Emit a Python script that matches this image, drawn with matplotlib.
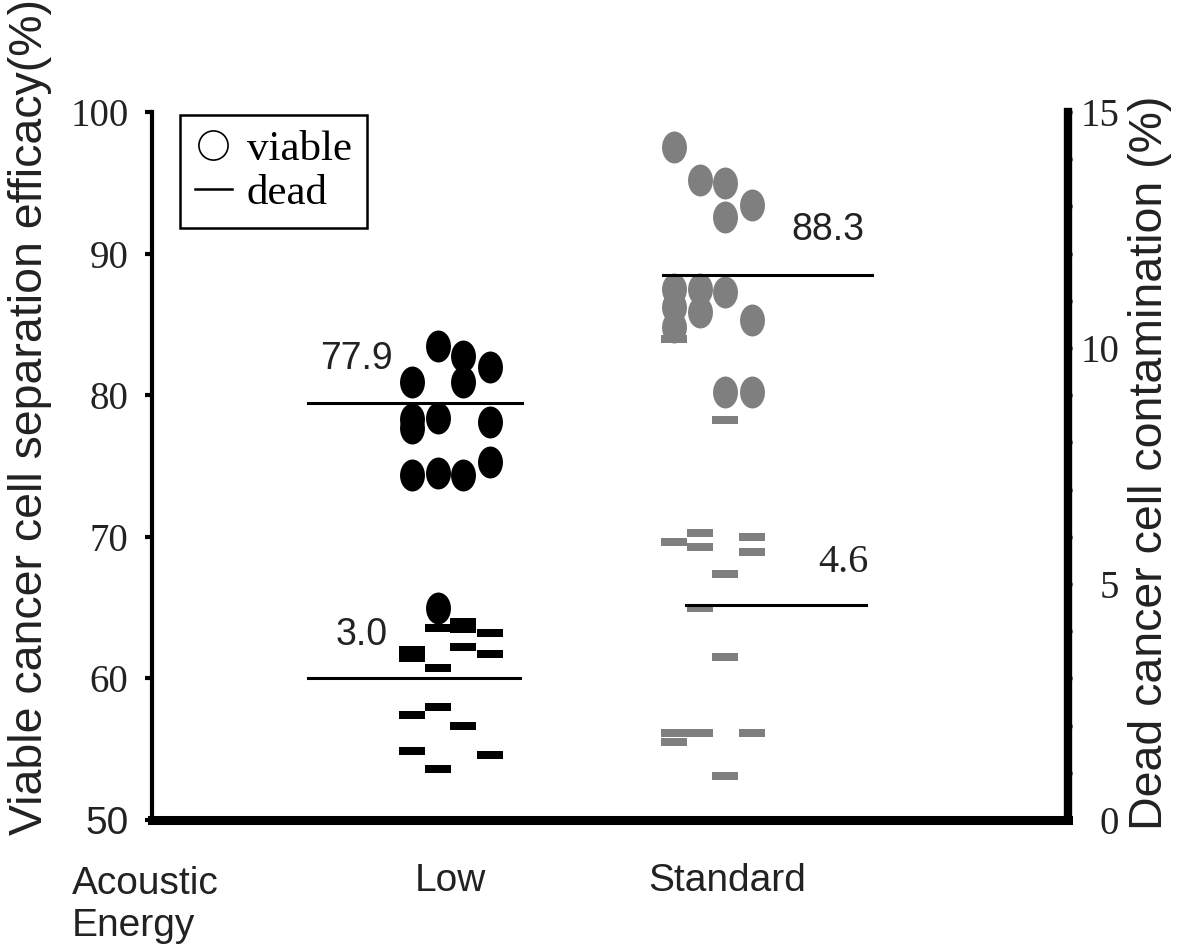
import numpy as np
import matplotlib
matplotlib.use('Agg')
import matplotlib.pyplot as plt
from matplotlib.path import Path
from matplotlib.transforms import Affine2D
from matplotlib.lines import Line2D
from matplotlib.ticker import MultipleLocator

SANS = 'Liberation Sans'
SERIF = 'Liberation Serif'

# --- data (one inner list per jitter column) ---
categories = ['Low', 'Standard']
low_viable = [[80.9, 78.3, 77.7, 74.4], [83.5, 78.4, 74.5, 65.0],
              [82.8, 80.9, 74.4], [82.0, 78.1, 75.3]]
std_viable = [[97.5, 87.5, 86.2, 84.8], [95.2, 87.5, 85.9],
              [95.0, 92.6, 87.3, 80.2], [93.4, 85.3, 80.2]]
low_dead = [[3.60, 3.43, 2.22, 1.46], [4.07, 3.22, 2.39, 1.08],
            [4.19, 4.05, 3.67, 1.99], [3.96, 3.52, 1.38]]
std_dead = [[10.2, 5.89, 1.84, 1.65], [6.08, 5.78, 4.49, 1.84],
            [8.47, 5.21, 3.45, 0.93], [6.00, 5.68, 1.84]]
viable_line = [79.45, 88.5]
dead_line = [3.0, 4.55]
viable_labels = ['77.9', '88.3']
dead_labels = ['3.0', '4.6']
left_ticks = [50, 60, 70, 80, 90, 100]
right_ticks = [0, 5, 10, 15]

# --- layout ---
cat_x = [1, 2]
cluster_shift = [0.0, -0.055]
col_offsets = [-0.137, -0.043, 0.047, 0.144]
viable_span = [(-0.513, 0.260), (-0.231, 0.523)]
dead_span = [(-0.513, 0.253), (-0.148, 0.502)]
viable_text_dx = [-0.336, 0.365]
dead_text_dx = [-0.318, 0.419]
text_fonts_viable = [SANS, SANS]
text_fonts_dead = [SANS, SERIF]
colors = ['black', '#7f7f7f']

ellipse = Path.unit_circle().transformed(Affine2D().scale(0.78, 1.0))
dash = Path([(-1, -0.3), (1, -0.3), (1, 0.3), (-1, 0.3), (-1, -0.3)], closed=True)

fig = plt.figure(figsize=(11.81, 9.47), dpi=100)
ax = fig.add_axes([0.1287, 0.1341, 0.7756, 0.7476])
ax2 = ax.twinx()

viable_groups = [low_viable, std_viable]
dead_groups = [low_dead, std_dead]

for i in range(2):
    for c, vals in enumerate(viable_groups[i]):
        xs = np.full(len(vals), cat_x[i] + cluster_shift[i] + col_offsets[c])
        ax.plot(xs, vals, ls='none', marker=ellipse, ms=23, mew=0,
                color=colors[i], zorder=3)
    for c, vals in enumerate(dead_groups[i]):
        xs = np.full(len(vals), cat_x[i] + cluster_shift[i] + col_offsets[c])
        ax2.plot(xs, vals, ls='none', marker=dash, ms=18.7, mew=0,
                 color=colors[i], zorder=3)

    x0, x1 = viable_span[i]
    ax.plot([cat_x[i] + x0, cat_x[i] + x1], [viable_line[i]] * 2,
            color='black', lw=2.2, zorder=5)
    ax.annotate(viable_labels[i], xy=(cat_x[i] + viable_text_dx[i], viable_line[i]),
                xytext=(0, 32), textcoords='offset points', ha='center', va='center',
                fontsize=27, family=text_fonts_viable[i], color='#222222')

    x0, x1 = dead_span[i]
    ax2.plot([cat_x[i] + x0, cat_x[i] + x1], [dead_line[i]] * 2,
             color='black', lw=2.2, zorder=5)
    ax2.annotate(dead_labels[i], xy=(cat_x[i] + dead_text_dx[i], dead_line[i]),
                 xytext=(0, 31), textcoords='offset points', ha='center', va='center',
                 fontsize=29 if text_fonts_dead[i] == SERIF else 27,
                 family=text_fonts_dead[i], color='#222222')

# axes limits and ticks
ax.set_xlim(-0.0758, 3.231)
ax.set_ylim(50, 100)
ax.set_yticks(left_ticks)
ax.set_yticklabels([str(t) for t in left_ticks])
for lab in ax.get_yticklabels():
    lab.set_fontfamily(SANS if lab.get_text() == '50' else SERIF)
    lab.set_fontsize(28)
ax.tick_params(axis='y', length=5, width=3, pad=12, labelcolor='#222222')

ax.set_xticks(cat_x)
ax.set_xticklabels(categories, fontsize=28, family=SANS, color='#222222')
ax.tick_params(axis='x', length=0, pad=31)

ax2.set_ylim(0, 15)
ax2.set_yticks(right_ticks)
ax2.yaxis.set_minor_locator(MultipleLocator(1))
for lab in ax2.get_yticklabels():
    lab.set_fontfamily(SERIF)
    lab.set_fontsize(28)
    lab.set_horizontalalignment('right')
ax2.tick_params(axis='y', which='major', length=3, width=2.5, pad=34, labelcolor='#222222')
ax2.tick_params(axis='y', which='minor', length=3, width=2.5)

# spines
ax.spines['top'].set_visible(False)
ax.spines['right'].set_visible(False)
ax.spines['left'].set_linewidth(3)
ax.spines['bottom'].set_linewidth(6.5)
for s in ['top', 'left', 'bottom']:
    ax2.spines[s].set_visible(False)
ax2.spines['right'].set_linewidth(6)

# axis labels
fig.text(30 / 1181, (947 - 835) / 947, 'Viable cancer cell separation efficacy(%)',
         rotation=90, ha='center', va='bottom', fontsize=33.5, family=SANS, color='#222222')
fig.text(1150 / 1181, (947 - 830) / 947, 'Dead cancer cell contamination (%)',
         rotation=90, ha='center', va='bottom', fontsize=33.5, family=SANS, color='#222222')
fig.text(72 / 1181, (947 - 866) / 947, 'Acoustic\nEnergy', ha='left', va='top',
         fontsize=28, family=SANS, color='#222222')

# legend
handles = [Line2D([], [], ls='none', marker='o', ms=21, mfc='none', mec='black', mew=1.2),
           Line2D([], [], color='black', lw=1.8)]
leg = ax.legend(handles, ['viable', 'dead'], loc='upper left',
                bbox_to_anchor=(0.0306, 0.9958), borderaxespad=0,
                prop={'family': SERIF, 'size': 31}, fancybox=False,
                handlelength=0.85, handletextpad=0.35, labelspacing=0.1,
                borderpad=0.35, framealpha=1)
leg.get_frame().set_edgecolor('black')
leg.get_frame().set_linewidth(1.8)

fig.savefig('out.png', dpi=100)
